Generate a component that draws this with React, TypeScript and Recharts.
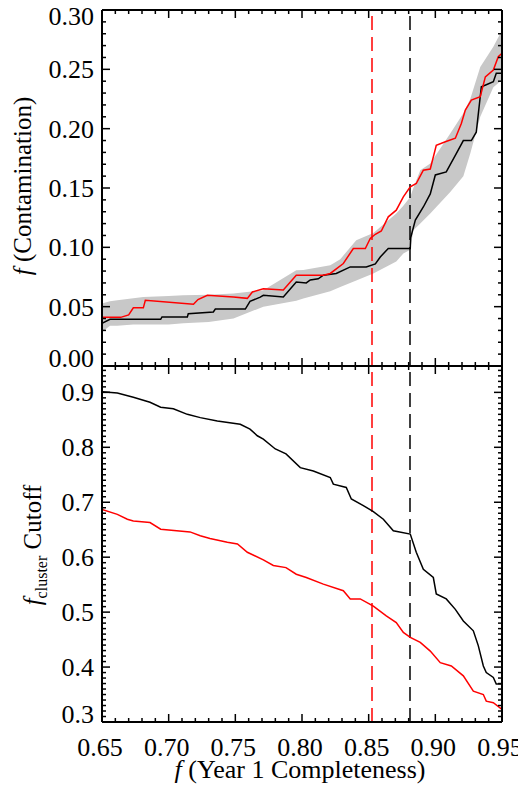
import React from 'react';
import { ComposedChart, LineChart, Line, Area, XAxis, YAxis, ReferenceLine } from 'recharts';

const FONT = '"Liberation Serif", "Times New Roman", serif';

// tick labels
const xMajor = [0.65, 0.7, 0.75, 0.8, 0.85, 0.9, 0.95];
const contamMajor = [0, 0.05, 0.1, 0.15, 0.2, 0.25, 0.3];
const cutoffMajor = [0.3, 0.4, 0.5, 0.6, 0.7, 0.8, 0.9];

// completeness cuts (dashed lines)
const redCut = 0.8525;
const blackCut = 0.881;

// top panel: contamination, red series
const contamRedX = [0.65, 0.664, 0.67, 0.6735, 0.681, 0.6825, 0.7186, 0.722, 0.729, 0.7486, 0.759, 0.7628, 0.771, 0.786, 0.7957, 0.816, 0.8212, 0.831, 0.8385, 0.8475, 0.8512, 0.855, 0.8595, 0.8647, 0.8707, 0.876, 0.8812, 0.8857, 0.891, 0.8962, 0.9007, 0.9075, 0.915, 0.9195, 0.9225, 0.927, 0.9337, 0.9375, 0.9435, 0.9472, 0.95];
const contamRed = [0.041, 0.041, 0.043, 0.049, 0.049, 0.0554, 0.052, 0.056, 0.0596, 0.0582, 0.057, 0.0624, 0.065, 0.064, 0.0765, 0.0765, 0.078, 0.0864, 0.099, 0.099, 0.1075, 0.111, 0.1138, 0.1257, 0.1313, 0.1425, 0.151, 0.1538, 0.165, 0.166, 0.186, 0.189, 0.192, 0.2044, 0.2157, 0.2241, 0.2269, 0.2437, 0.2494, 0.2606, 0.2635];

// top panel: contamination, black series
const contamBlackX = [0.65, 0.656, 0.694, 0.695, 0.714, 0.7147, 0.7335, 0.735, 0.7575, 0.761, 0.7687, 0.771, 0.786, 0.7897, 0.7957, 0.8032, 0.8062, 0.8122, 0.816, 0.8257, 0.8362, 0.8482, 0.855, 0.8587, 0.8647, 0.8812, 0.8815, 0.885, 0.891, 0.8962, 0.9, 0.9082, 0.9157, 0.921, 0.927, 0.9307, 0.9345, 0.9382, 0.9435, 0.9457, 0.95];
const contamBlack = [0.036, 0.0393, 0.0393, 0.0413, 0.0413, 0.044, 0.0455, 0.048, 0.048, 0.0545, 0.058, 0.0596, 0.0582, 0.063, 0.0708, 0.07, 0.0725, 0.0735, 0.0765, 0.078, 0.0835, 0.0835, 0.086, 0.0919, 0.099, 0.099, 0.108, 0.123, 0.134, 0.145, 0.161, 0.1636, 0.179, 0.19, 0.19, 0.197, 0.2353, 0.237, 0.2395, 0.2466, 0.2466];

// top panel: grey scatter band
const bandX = [0.65, 0.656, 0.6615, 0.6735, 0.681, 0.7, 0.711, 0.73, 0.7486, 0.771, 0.7957, 0.801, 0.8212, 0.8287, 0.8407, 0.8535, 0.8707, 0.876, 0.8812, 0.8835, 0.8887, 0.8962, 0.9112, 0.921, 0.9262, 0.9337, 0.9435, 0.95];
const bandLow = [0.0287, 0.034, 0.034, 0.035, 0.035, 0.035, 0.036, 0.037, 0.04, 0.05, 0.055, 0.0568, 0.063, 0.0666, 0.072, 0.0779, 0.088, 0.0948, 0.098, 0.1144, 0.12, 0.1285, 0.1467, 0.16, 0.179, 0.21, 0.235, 0.241];
const bandHigh = [0.0526, 0.0545, 0.0554, 0.057, 0.0582, 0.059, 0.0596, 0.06, 0.061, 0.0638, 0.0807, 0.081, 0.085, 0.09, 0.106, 0.112, 0.1285, 0.135, 0.1425, 0.15, 0.165, 0.1707, 0.196, 0.2129, 0.225, 0.252, 0.269, 0.283];

// bottom panel: f_cluster cutoff, black series
const cutBlackX = [0.65, 0.6615, 0.6735, 0.686, 0.694, 0.7035, 0.714, 0.7237, 0.7365, 0.7537, 0.761, 0.7665, 0.771, 0.78, 0.788, 0.7987, 0.8085, 0.8212, 0.8235, 0.8332, 0.837, 0.846, 0.8535, 0.861, 0.8685, 0.8812, 0.8857, 0.891, 0.8985, 0.9007, 0.9082, 0.915, 0.921, 0.9285, 0.9322, 0.936, 0.9382, 0.9435, 0.9457, 0.95];
const cutBlack = [0.901, 0.899, 0.891, 0.882, 0.873, 0.87, 0.86, 0.854, 0.848, 0.842, 0.833, 0.821, 0.815, 0.797, 0.788, 0.763, 0.757, 0.745, 0.733, 0.727, 0.706, 0.694, 0.683, 0.669, 0.648, 0.642, 0.609, 0.578, 0.563, 0.533, 0.524, 0.505, 0.484, 0.466, 0.439, 0.402, 0.39, 0.381, 0.369, 0.369];

// bottom panel: f_cluster cutoff, red series
const cutRedX = [0.65, 0.6615, 0.669, 0.6735, 0.686, 0.694, 0.716, 0.7237, 0.731, 0.744, 0.7516, 0.759, 0.771, 0.7785, 0.788, 0.7957, 0.8032, 0.816, 0.831, 0.8362, 0.8437, 0.8535, 0.8632, 0.8707, 0.876, 0.8812, 0.8887, 0.8962, 0.9037, 0.912, 0.921, 0.9285, 0.936, 0.9382, 0.9435, 0.95];
const cutRed = [0.687, 0.678, 0.669, 0.666, 0.663, 0.651, 0.646, 0.639, 0.634, 0.627, 0.624, 0.609, 0.595, 0.585, 0.581, 0.569, 0.563, 0.551, 0.539, 0.524, 0.524, 0.511, 0.493, 0.481, 0.463, 0.454, 0.445, 0.429, 0.408, 0.402, 0.384, 0.356, 0.35, 0.338, 0.335, 0.323];

const pts = (xs: number[], ys: number[]) => xs.map((x, i) => ({ x, y: ys[i] }));
const bandData = bandX.map((x, i) => ({ x, range: [bandLow[i], bandHigh[i]] }));

const minorTicks = (lo: number, hi: number) => {
  const out: number[] = [];
  for (let v = lo; v <= hi + 1e-9; v += 0.01) out.push(Math.round(v * 1000) / 1000);
  return out;
};
const isMajor = (list: number[], v: number) => list.some((m) => Math.abs(m - v) < 1e-6);

const xTicks = minorTicks(0.65, 0.95);
const contamTicks = minorTicks(0, 0.3);
const cutoffTicks = minorTicks(0.3, 0.94);

// layout (container sits at page 8,8)
const W = 518;
const side = { left: 93, right: 23 };
const TOP_Y = -6; // top chart svg starts at page y=2
const TOP_H = 372; // plot 10..366 on page, extra room below
const BOT_TOP = 357;
const BOT_H = 422;
const TICK_FS = 26;
const TITLE_FS = 26;

const XTick = (props: any) => {
  const { x, y, payload, dir, labels } = props;
  const major = isMajor(xMajor, payload.value);
  const len = major ? 8 : 4;
  return (
    <g>
      <line x1={x} y1={y} x2={x} y2={y + dir * len} stroke="#000" strokeWidth={1.5} />
      {labels && major && (
        <text x={x - 2} y={y + 34} textAnchor="middle" fontFamily={FONT} fontSize={TICK_FS} fill="#000">
          {payload.value.toFixed(2)}
        </text>
      )}
    </g>
  );
};

const YTick = (props: any) => {
  const { x, y, payload, dir, majors, digits, labels, lo, hi } = props;
  const v = payload.value;
  const major = isMajor(majors, v);
  const len = major ? 8 : 4;
  let off = 9;
  if (Math.abs(v - hi) < 1e-6) off = 15;
  if (Math.abs(v - lo) < 1e-6) off = 1;
  return (
    <g>
      <line x1={x} y1={y} x2={x + dir * len} y2={y} stroke="#000" strokeWidth={1.5} />
      {labels && major && (
        <text x={x - 8} y={y + off} textAnchor="end" fontFamily={FONT} fontSize={TICK_FS} fill="#000">
          {v.toFixed(digits)}
        </text>
      )}
    </g>
  );
};

const axisLine = { stroke: '#000', strokeWidth: 2 };
const xCommon = {
  dataKey: 'x',
  type: 'number' as const,
  domain: [0.65, 0.95],
  allowDataOverflow: true,
  ticks: xTicks,
  interval: 0,
  height: 1,
  tickSize: 0,
  tickMargin: 0,
  axisLine,
  tickLine: false,
};
const yCommon = {
  type: 'number' as const,
  allowDataOverflow: true,
  interval: 0,
  width: 1,
  tickSize: 0,
  tickMargin: 0,
  axisLine,
  tickLine: false,
};

export default function App() {
  return (
    <div style={{ position: 'relative', width: W, height: 780 }}>
      <style>{'#root { width: 518px; }'}</style>
      <div style={{ position: 'absolute', left: 0, top: TOP_Y, zIndex: 2 }}>
        <ComposedChart width={W} height={TOP_H} data={bandData} margin={{ top: 7, bottom: 7, ...side }}>
          <XAxis xAxisId="b" {...xCommon} tick={(p: any) => <XTick {...p} dir={-1} />} />
          <XAxis xAxisId="t" orientation="top" {...xCommon} tick={(p: any) => <XTick {...p} dir={1} />} />
          <YAxis yAxisId="l" {...yCommon} domain={[0, 0.3]} ticks={contamTicks} tick={(p: any) => <YTick {...p} dir={1} majors={contamMajor} digits={2} labels lo={0} hi={0.3} />} />
          <YAxis yAxisId="r" orientation="right" {...yCommon} domain={[0, 0.3]} ticks={contamTicks} tick={(p: any) => <YTick {...p} dir={-1} majors={contamMajor} digits={2} lo={0} hi={0.3} />} />
          <Area xAxisId="b" yAxisId="l" dataKey="range" type="linear" fill="#c8c8c8" fillOpacity={1} stroke="none" isAnimationActive={false} />
          <ReferenceLine xAxisId="b" yAxisId="l" x={redCut} stroke="#ff0000" strokeWidth={1.5} strokeDasharray="14 7" />
          <ReferenceLine xAxisId="b" yAxisId="l" x={blackCut} stroke="#000" strokeWidth={1.5} strokeDasharray="14 7" />
          <Line xAxisId="b" yAxisId="l" data={pts(contamBlackX, contamBlack)} dataKey="y" type="linear" stroke="#000" strokeWidth={1.5} dot={false} isAnimationActive={false} />
          <Line xAxisId="b" yAxisId="l" data={pts(contamRedX, contamRed)} dataKey="y" type="linear" stroke="#ff0000" strokeWidth={1.5} dot={false} isAnimationActive={false} />
          <text transform="translate(23,184) rotate(-90)" textAnchor="middle" fontFamily={FONT} fontSize={TITLE_FS - 1} fill="#000">
            <tspan fontStyle="italic">f</tspan> (Contamination)
          </text>
        </ComposedChart>
      </div>
      <div style={{ position: 'absolute', left: 0, top: BOT_TOP, zIndex: 1 }}>
        <LineChart width={W} height={BOT_H} margin={{ top: 0, bottom: 64, ...side }}>
          <XAxis xAxisId="b" {...xCommon} tick={(p: any) => <XTick {...p} dir={-1} labels />} />
          <XAxis xAxisId="t" orientation="top" {...xCommon} tick={(p: any) => <XTick {...p} dir={1} />} />
          <YAxis yAxisId="l" {...yCommon} domain={[0.3, 0.948]} ticks={cutoffTicks} tick={(p: any) => <YTick {...p} dir={1} majors={cutoffMajor} digits={1} labels lo={0.3} hi={0.948} />} />
          <YAxis yAxisId="r" orientation="right" {...yCommon} domain={[0.3, 0.948]} ticks={cutoffTicks} tick={(p: any) => <YTick {...p} dir={-1} majors={cutoffMajor} digits={1} lo={0.3} hi={0.948} />} />
          <ReferenceLine xAxisId="b" yAxisId="l" x={redCut} stroke="#ff0000" strokeWidth={1.5} strokeDasharray="14 7" />
          <ReferenceLine xAxisId="b" yAxisId="l" x={blackCut} stroke="#000" strokeWidth={1.5} strokeDasharray="14 7" />
          <Line xAxisId="b" yAxisId="l" data={pts(cutBlackX, cutBlack)} dataKey="y" type="linear" stroke="#000" strokeWidth={1.5} dot={false} isAnimationActive={false} />
          <Line xAxisId="b" yAxisId="l" data={pts(cutRedX, cutRed)} dataKey="y" type="linear" stroke="#ff0000" strokeWidth={1.5} dot={false} isAnimationActive={false} />
          <text transform="translate(33,180) rotate(-90)" textAnchor="middle" fontFamily={FONT} fontSize={TITLE_FS - 1} fill="#000">
            <tspan fontStyle="italic">f</tspan>
            <tspan fontSize={16} dy={6}>cluster</tspan>
            <tspan dy={-6}> Cutoff</tspan>
          </text>
          <text x={292} y={413} textAnchor="middle" fontFamily={FONT} fontSize={TITLE_FS} fill="#000">
            <tspan fontStyle="italic">f</tspan> (Year 1 Completeness)
          </text>
        </LineChart>
      </div>
    </div>
  );
}
